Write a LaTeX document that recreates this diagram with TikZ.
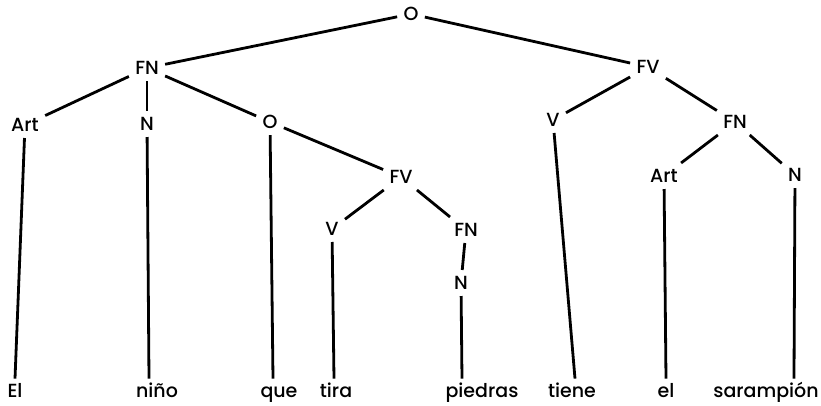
\documentclass[tikz,border=0pt]{standalone}
\usepackage{fontspec}
\setmainfont{Poppins Medium}
\tikzset{
  x=0.5pt, y=-0.5pt, % one unit is one pixel of the scan, y runs downwards
  every node/.style={font=\fontsize{9.5}{11}\selectfont},
  cat/.style={inner sep=3pt}, % the category labels (O, FN, FV, ...)
  word/.style={inner sep=2.5pt, anchor=base, text height=7pt, text depth=2pt}, % the words of the sentence
  branch/.style={line width=1.4pt}, % the lines of the tree
}

\begin{document}
\begin{tikzpicture}
    \useasboundingbox (0,0) rectangle (821,406);
    % categories
    \node[cat] (o)    at (411,14)  {O};
    \node[cat] (fn)   at (147,68)  {FN};
    \node[cat] (fv)   at (648,67)  {FV};
    \node[cat] (art)  at (25,125)  {Art};
    \node[cat] (n)    at (147,124) {N};
    \node[cat] (orel) at (270,122) {O};
    \node[cat] (fvrel) at (401,177) {FV};
    \node[cat] (vrel) at (332,229) {V};
    \node[cat] (fnrel) at (466,230) {FN};
    \node[cat] (nrel) at (461,283) {N};
    \node[cat] (v)    at (553,120) {V};
    \node[cat] (fnobj) at (735,122) {FN};
    \node[cat] (artobj) at (664,176) {Art};
    \node[cat] (nobj) at (795,175) {N};
    % words
    \node[word] (el)      at (15,398)  {El};
    \node[word] (nino)    at (157,398) {niño};
    \node[word] (que)     at (279,398) {que};
    \node[word] (tira)    at (336,398) {tira};
    \node[word] (piedras) at (482,398) {piedras};
    \node[word] (tiene)   at (572,398) {tiene};
    \node[word] (elobj)   at (666,398) {el};
    \node[word] (saramp)  at (766,398) {sarampión};
    \draw[branch]
      (o) edge (fn)
      (o) edge (fv)
      (fn) edge (art)
      (fn) edge (n)
      (fn) edge (orel)
      (orel) edge (fvrel)
      (fvrel) edge (vrel)
      (fvrel) edge (fnrel)
      (fnrel) edge (nrel)
      (fv) edge (v)
      (fv) edge (fnobj)
      (fnobj) edge (artobj)
      (fnobj) edge (nobj);
    \draw[branch]
      (art) edge (el.north)
      (n) edge ([xshift=-4pt]nino.north)
      (orel) edge ([xshift=-3pt]que.north)
      (vrel) edge ([xshift=-1pt]tira.north)
      (nrel) edge ([xshift=-10pt]piedras.north)
      (v) edge ([xshift=1.5pt]tiene.north)
      (artobj) edge (elobj.north)
      (nobj) edge ([xshift=14pt]saramp.north);
\end{tikzpicture}
\end{document}
